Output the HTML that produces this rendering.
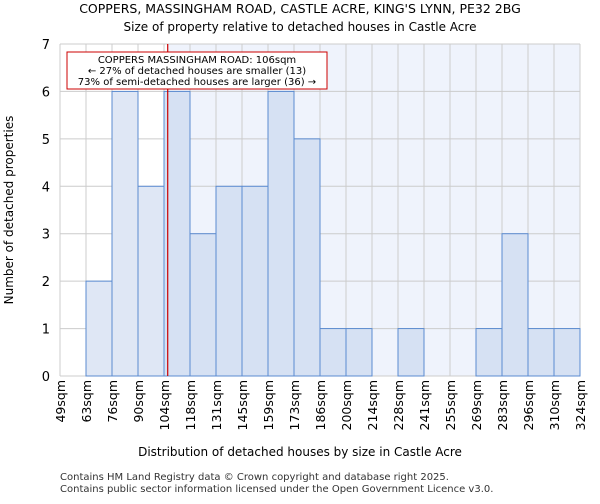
<!DOCTYPE html>
<html><head><meta charset="utf-8"><style>
body{margin:0;background:#fff;font-family:"DejaVu Sans","Liberation Sans",sans-serif}
</style></head><body>
<svg width="600" height="500" xmlns="http://www.w3.org/2000/svg" font-family="DejaVu Sans, Liberation Sans, sans-serif">
<text x="300" y="13" text-anchor="middle" font-size="12.5">COPPERS, MASSINGHAM ROAD, CASTLE ACRE, KING'S LYNN, PE32 2BG</text>
<text x="300" y="31" text-anchor="middle" font-size="12">Size of property relative to detached houses in Castle Acre</text>
<g id="plot"></g>
<text x="300" y="456" text-anchor="middle" font-size="12">Distribution of detached houses by size in Castle Acre</text>
<text transform="translate(13,210) rotate(-90)" text-anchor="middle" font-size="12">Number of detached properties</text>
<text x="60" y="480" font-size="10" fill="#333">Contains HM Land Registry data © Crown copyright and database right 2025.</text>
<text x="60" y="492" font-size="10" fill="#333">Contains public sector information licensed under the Open Government Licence v3.0.</text>
</svg>
<script>
const tickLabels=["49sqm","63sqm","76sqm","90sqm","104sqm","118sqm","131sqm","145sqm","159sqm","173sqm","186sqm","200sqm","214sqm","228sqm","241sqm","255sqm","269sqm","283sqm","296sqm","310sqm","324sqm"];
const binStarts=[49,63,76,90,104,118,131,145,159,173,186,200,214,228,241,255,269,283,296,310,324];
const counts=[0,2,6,4,6,3,4,4,6,5,1,1,0,1,0,0,1,3,1,1];
const yTicks=[0,1,2,3,4,5,6,7];
const propertySize=106;
const NS="http://www.w3.org/2000/svg";
const L=60,R=580,T=44,B=376,nb=counts.length,bw=(R-L)/nb;
const xb=i=>L+i*bw;
const xv=v=>{for(let i=0;i<binStarts.length-1;i++){if(v>=binStarts[i]&&v<=binStarts[i+1])return xb(i)+(v-binStarts[i])/(binStarts[i+1]-binStarts[i])*bw;}return R;};
const y=v=>B-v*(B-T)/7;
const g=document.getElementById('plot');
function mk(t,a){const e=document.createElementNS(NS,t);for(const k in a)e.setAttribute(k,a[k]);g.appendChild(e);return e;}
const px=xv(propertySize);
let e=mk('rect',{x:L,y:T,width:px-L,height:B-T,fill:'#ffffff'});


e=mk('rect',{x:px,y:T,width:R-px,height:B-T,fill:'#eff3fc'});


for(let i=0;i<=nb;i++){e=mk('line',{x1:xb(i),x2:xb(i),y1:T,y2:B,stroke:'#cccccc','stroke-width':1});

}
yTicks.forEach(t=>{e=mk('line',{x1:L,x2:R,y1:y(t),y2:y(t),stroke:'#cccccc','stroke-width':1});


e=mk('text',{x:L-10,y:y(t)+5,'text-anchor':'end','font-size':13});e.textContent=t;

});
counts.forEach((c,i)=>{if(!c)return;const x0=xb(i);
e=mk('rect',{x:x0,y:y(c),width:bw,height:B-y(c),fill:(x0+bw<=px)?'#dfe7f5':'#d6e1f3',stroke:'#5b8bd0','stroke-width':1});

});
tickLabels.forEach((t,i)=>{e=mk('text',{transform:`translate(${xb(i)+5},380) rotate(-90)`,'text-anchor':'end','font-size':12.5});e.textContent=t;

});
e=mk('line',{x1:px,x2:px,y1:T,y2:B,stroke:'#cc0000','stroke-width':1.2});


e=mk('rect',{x:67,y:52,width:260,height:37,fill:'#fff',stroke:'#cc0000','stroke-width':1});


["COPPERS MASSINGHAM ROAD: 106sqm","← 27% of detached houses are smaller (13)","73% of semi-detached houses are larger (36) →"].forEach((s,k)=>{
e=mk('text',{x:197,y:63+k*11,'text-anchor':'middle','font-size':10});e.textContent=s;

});
</script>
</body></html>
